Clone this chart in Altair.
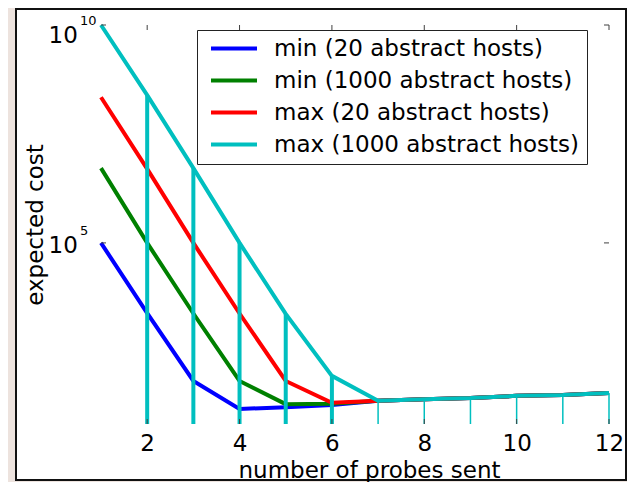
import altair as alt
import pandas as pd

# ---- data ----
probes = [1, 2, 3, 4, 5, 6, 7, 8, 9, 10, 11, 12]
min_20 = [1e5, 2450, 68, 15.5, 17, 19, 24, 26, 27.5, 31, 32.5, 36]
min_1000 = [5.2e6, 1e5, 2400, 68, 20, 20.5, 24, 26, 27.5, 31, 32.5, 36]
max_20 = [2.2e8, 5.0e6, 1e5, 2400, 68, 21.5, 24, 26, 27.5, 31, 32.5, 36]
max_1000 = [1e10, 2.45e8, 5.2e6, 1e5, 2350, 89, 24, 26, 27.5, 31, 32.5, 36]

series_names = [
    "min (20 abstract hosts)",
    "min (1000 abstract hosts)",
    "max (20 abstract hosts)",
    "max (1000 abstract hosts)",
]
series_colors = ["#0000ff", "#008000", "#ff0000", "#00bfbf"]

x_ticks = [2, 4, 6, 8, 10, 12]
y_ticks = [1e5, 1e10]
y_exponents = ["5", "10"]

rows = []
for name, vals in zip(series_names, [min_20, min_1000, max_20, max_1000]):
    for p, v in zip(probes, vals):
        rows.append({"probes": p, "cost": v, "series": name})
df = pd.DataFrame(rows)

W, H = 508, 399
FONT = "DejaVu Sans"

xscale = alt.Scale(domain=[1, 12], nice=False, zero=False)
yscale = alt.Scale(type="log", domain=[7, 1e10], nice=False)
cscale = alt.Scale(domain=series_names, range=series_colors)

xaxis = alt.Axis(
    values=x_ticks, ticks=False, tickSize=0, domain=False, grid=False, zindex=1,
    labelFont=FONT, labelFontSize=23, labelColor="black", labelFlush=False,
    labelBaseline="alphabetic", labelPadding=26,
    title="number of probes sent", titleFont=FONT, titleFontSize=23,
    titleFontWeight="normal", titleColor="black", titleX=268, titleY=53,
    titleBaseline="alphabetic",
)
yaxis = alt.Axis(
    values=y_ticks, ticks=False, tickSize=0, domain=False, grid=False, zindex=1,
    labelExpr="'10'", labelFont=FONT, labelFontSize=23, labelColor="black",
    labelAlign="left", labelBaseline="alphabetic", labelPadding=53,
    labelFlush=False, labelOverlap=False,
    labelOffset={"condition": {"test": "datum.value > 1e9", "value": 17}, "value": 10},
    title="expected cost", titleFont=FONT, titleFontSize=23,
    titleFontWeight="normal", titleColor="black", titleAngle=270,
    titleX=-59, titleY=H / 2, titleAlign="center", titleBaseline="alphabetic",
)

legend = alt.Legend(
    title=None, orient="none", legendX=96, legendY=5,
    direction="vertical", symbolType="stroke", symbolSize=2116,
    symbolStrokeWidth=4, labelFont=FONT, labelFontSize=23,
    labelColor="black", labelOffset=15, rowPadding=8, clipHeight=23,
    padding=7, symbolOffset=5, strokeColor="#222222",
    fillColor="white", labelLimit=500,
)

# outer white frame
frame = alt.Chart(pd.DataFrame({"a": [0]})).mark_rect(
    fill="white", stroke="#111111", strokeWidth=2
).encode(
    x=alt.value(-85), x2=alt.value(525), y=alt.value(-16), y2=alt.value(455)
)

layers = [frame]
for i, name in enumerate(series_names):
    layers.append(
        alt.Chart(df).transform_filter(alt.datum.series == name)
        .mark_line(strokeWidth=4, strokeCap="butt", strokeJoin="miter")
        .encode(
            x=alt.X("probes:Q", scale=xscale, axis=xaxis),
            y=alt.Y("cost:Q", scale=yscale, axis=yaxis),
            color=alt.Color("series:N", scale=cscale, legend=legend),
        )
    )

# cyan vertical stems
stems = alt.Chart(df).transform_filter(
    (alt.datum.series == series_names[3]) & (alt.datum.probes >= 2)
).mark_rule(color="#00bfbf").encode(
    x=alt.X("probes:Q", scale=xscale, axis=xaxis),
    y=alt.Y("cost:Q", scale=yscale, axis=yaxis),
    y2=alt.value(H),
    strokeWidth=alt.condition("datum.probes <= 6", alt.value(4), alt.value(1.5)),
)
layers.append(stems)

# inward ticks
xt = pd.DataFrame({"t": x_ticks})
yt = pd.DataFrame({"t": y_ticks, "e": y_exponents})
tick_style = dict(color="#404040", strokeWidth=1)
layers.append(alt.Chart(xt).mark_rule(**tick_style).encode(
    x=alt.X("t:Q", scale=xscale, axis=xaxis), y=alt.value(H), y2=alt.value(H - 5)))
layers.append(alt.Chart(xt).mark_rule(**tick_style).encode(
    x=alt.X("t:Q", scale=xscale, axis=xaxis), y=alt.value(0), y2=alt.value(5)))
layers.append(alt.Chart(yt).mark_rule(**tick_style).encode(
    y=alt.Y("t:Q", scale=yscale, axis=yaxis), x=alt.value(0), x2=alt.value(5)))
layers.append(alt.Chart(yt).mark_rule(**tick_style).encode(
    y=alt.Y("t:Q", scale=yscale, axis=yaxis), x=alt.value(W - 5), x2=alt.value(W)))

# exponents of the y tick labels
layers.append(alt.Chart(yt).transform_filter(alt.datum.t > 1e9).mark_text(
    font=FONT, fontSize=13, align="left", baseline="alphabetic", dy=0, color="black"
).encode(y=alt.Y("t:Q", scale=yscale, axis=yaxis), x=alt.value(-21), text="e:N"))
layers.append(alt.Chart(yt).transform_filter(alt.datum.t < 1e9).mark_text(
    font=FONT, fontSize=13, align="left", baseline="alphabetic", dy=-8, color="black"
).encode(y=alt.Y("t:Q", scale=yscale, axis=yaxis), x=alt.value(-21), text="e:N"))

chart = alt.layer(*layers).properties(
    width=W, height=H,
    autosize=alt.AutoSizeParams(type="none"),
    padding={"left": 93, "top": 17, "right": 18, "bottom": 58},
    background="#ede3de",
).configure_view(
    stroke="#404040", strokeWidth=1, fill="white"
).configure(font=FONT)

chart.save("out.html", embed_options={"renderer": "svg", "actions": False})
